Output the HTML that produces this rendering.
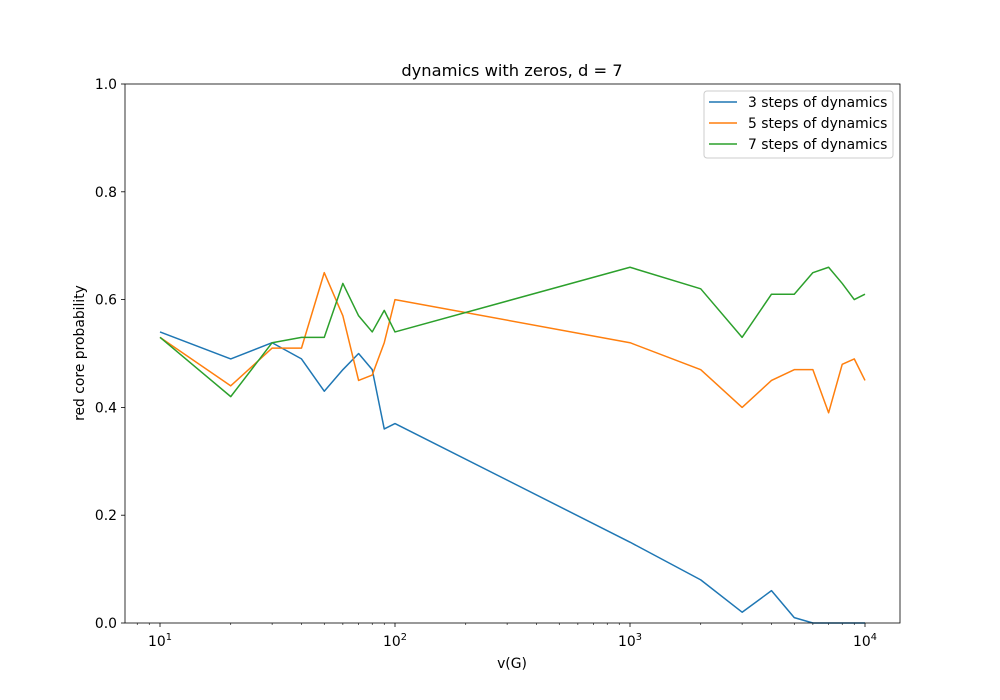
<!DOCTYPE html>
<html><head><meta charset="utf-8"><style>
body{margin:0;background:#fff;}
svg{display:block;font-family:"DejaVu Sans","Liberation Sans",sans-serif;}
</style></head><body>
<svg id="chart" width="1000" height="700"></svg>
<script>
const xValues=[10,20,30,40,50,60,70,80,90,100,1000,2000,3000,4000,5000,6000,7000,8000,9000,10000];
const series3=[0.54,0.49,0.52,0.49,0.43,0.47,0.50,0.47,0.36,0.37,0.15,0.08,0.02,0.06,0.01,0,0,0,0,0];
const series5=[0.53,0.44,0.51,0.51,0.65,0.57,0.45,0.46,0.52,0.60,0.52,0.47,0.40,0.45,0.47,0.47,0.39,0.48,0.49,0.45];
const series7=[0.53,0.42,0.52,0.53,0.53,0.63,0.57,0.54,0.58,0.54,0.66,0.62,0.53,0.61,0.61,0.65,0.66,0.63,0.60,0.61];
const seriesNames=["3 steps of dynamics","5 steps of dynamics","7 steps of dynamics"];
const yTicks=[0,0.2,0.4,0.6,0.8,1.0];
const yTickLabels=["0.0","0.2","0.4","0.6","0.8","1.0"];
const xTickExps=[1,2,3,4];

const L=125,R=900,T=84,B=623;
const xMinLog=1-35/235, xMaxLog=4+35/235;
const xs=v=>L+(Math.log10(v)-xMinLog)/(xMaxLog-xMinLog)*(R-L);
const ys=v=>B-v*(B-T);
const NS="http://www.w3.org/2000/svg";
const svg=document.getElementById('chart');
function mk(tag,attrs,parent){const e=document.createElementNS(NS,tag);for(const k in attrs)e.setAttribute(k,attrs[k]);(parent||svg).appendChild(e);return e;}

let t=mk('text',{x:512,y:76,'text-anchor':'middle','font-size':16.3});t.textContent="dynamics with zeros, d = 7";



yTicks.forEach((v,i)=>{
  const y=ys(v);
  const tk=mk('line',{x1:L-4,x2:L,y1:y,y2:y,stroke:'#000','stroke-width':0.8});
  
  
  const lb=mk('text',{x:L-8,y:y+5,'text-anchor':'end','font-size':13.9});lb.textContent=yTickLabels[i];
  
  
});
xTickExps.forEach(e=>{
  const x=xs(Math.pow(10,e));
  const tk=mk('line',{x1:x,x2:x,y1:B,y2:B+4,stroke:'#000','stroke-width':0.8});
  
  
  const lb=mk('text',{x:x,y:B+23,'text-anchor':'middle','font-size':13.9});
  
  
  lb.appendChild(document.createTextNode('10'));
  const sp=document.createElementNS(NS,'tspan');sp.setAttribute('dy',-6);sp.setAttribute('font-size',9.8);sp.textContent=String(e);lb.appendChild(sp);
});
for(let e=0;e<=4;e++)for(let m=2;m<=9;m++){
  const v=m*Math.pow(10,e);const lv=Math.log10(v);
  if(lv<xMinLog||lv>xMaxLog)continue;
  const x=xs(v);
  const tk=mk('line',{x1:x,x2:x,y1:B,y2:B+2,stroke:'#000','stroke-width':0.6});
  
  
}
let xl=mk('text',{x:512,y:668,'text-anchor':'middle','font-size':13.9});xl.textContent="v(G)";


let yl=mk('text',{x:84,y:353,'text-anchor':'middle','font-size':13.9,transform:'rotate(-90 84 353)'});yl.textContent="red core probability";



const colors=['#1f77b4','#ff7f0e','#2ca02c'];
[series3,series5,series7].forEach((s,i)=>{
  const pts=s.map((v,j)=>xs(xValues[j]).toFixed(2)+','+ys(v).toFixed(2)).join(' ');
  const pl=mk('polyline',{points:pts,fill:'none',stroke:colors[i],'stroke-width':1.5,'stroke-linejoin':'round'});
  
  
});

const fr=mk('rect',{x:L,y:T,width:R-L,height:B-T,fill:'none',stroke:'#000','stroke-width':0.8});



const lg=mk('g',{});


mk('rect',{x:704,y:91,width:189,height:67,rx:3,fill:'#fff',stroke:'#ccc','stroke-width':1},lg);
seriesNames.forEach((n,i)=>{
  const y=102+i*21;
  const ln=mk('line',{x1:709,x2:737,y1:y,y2:y,stroke:colors[i],'stroke-width':1.5},lg);
  
  
  const tx=mk('text',{x:748,y:y+5,'font-size':13.9},lg);tx.textContent=n;
  
  
});
</script>
</body></html>
